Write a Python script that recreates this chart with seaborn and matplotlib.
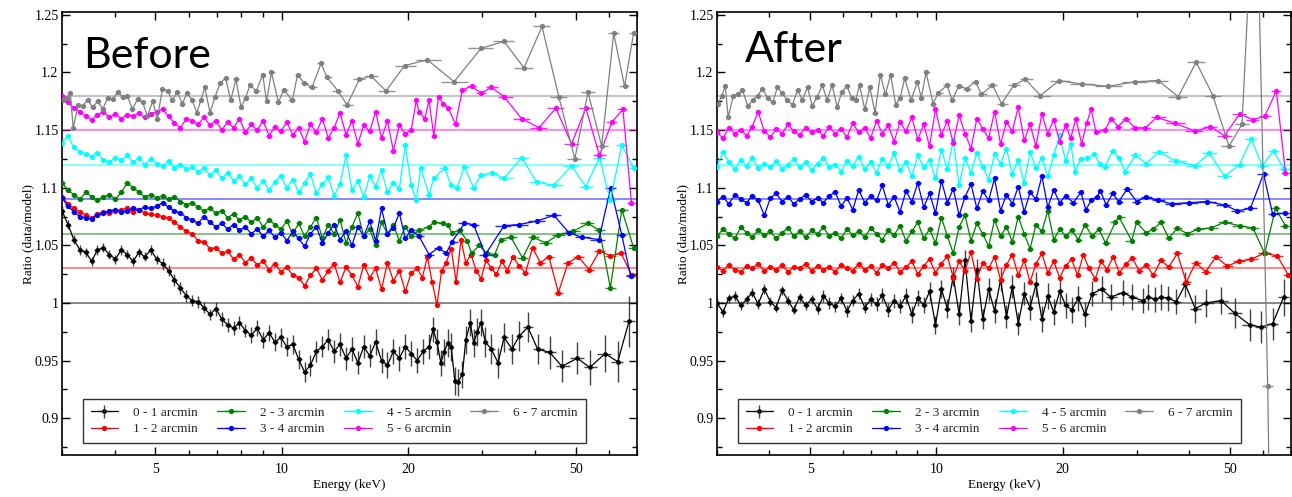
import numpy as np
import pandas as pd
import matplotlib
matplotlib.use('Agg')
import matplotlib.pyplot as plt
from matplotlib.ticker import FixedLocator, FixedFormatter, MultipleLocator, FuncFormatter, NullFormatter
import seaborn as sns

# ---------------- data ----------------
labels = ['0 - 1 arcmin', '1 - 2 arcmin', '2 - 3 arcmin', '3 - 4 arcmin',
          '4 - 5 arcmin', '5 - 6 arcmin', '6 - 7 arcmin']
colors = ['#000000', '#ff0000', '#008000', '#0000ff', '#00ffff', '#ff00ff', '#808080']
baselines = [1.00, 1.03, 1.06, 1.09, 1.12, 1.15, 1.18]

# fine energy binning at low energy (keV), shared by the dense spectra
e_dense = [3.00, 3.10, 3.20, 3.31, 3.42, 3.53, 3.64, 3.76, 3.89, 4.02,
           4.15, 4.29, 4.43, 4.57, 4.72, 4.88, 5.04, 5.21, 5.38, 5.55,
           5.74, 5.93, 6.12, 6.32, 6.53, 6.75, 6.97, 7.20, 7.43, 7.68,
           7.93, 8.19, 8.46, 8.74, 9.03, 9.33, 9.63, 9.95, 10.28, 10.62,
           10.97, 11.33, 11.70, 12.09, 12.49, 12.90, 13.32, 13.76, 14.22, 14.69,
           15.17, 15.67, 16.19, 16.72, 17.27, 17.84, 18.43, 19.04, 19.67, 20.32]
err_black_dense = [0.004, 0.004, 0.004, 0.004, 0.004, 0.004, 0.004, 0.004, 0.004, 0.004,
                   0.004, 0.004, 0.004, 0.004, 0.004, 0.004, 0.004, 0.005, 0.005, 0.005,
                   0.005, 0.005, 0.005, 0.005, 0.005, 0.005, 0.006, 0.006, 0.006, 0.006,
                   0.006, 0.006, 0.007, 0.007, 0.007, 0.007, 0.008, 0.008, 0.008, 0.008,
                   0.008, 0.009, 0.009, 0.009, 0.009, 0.009, 0.010, 0.010, 0.010, 0.010,
                   0.010, 0.010, 0.010, 0.011, 0.011, 0.011, 0.011, 0.011, 0.011, 0.011]

# 6 - 7 arcmin spectrum has its own (coarser) binning
e_gray = [3.02, 3.08, 3.14, 3.19, 3.28, 3.36, 3.45, 3.55, 3.65, 3.75,
          3.85, 3.96, 4.07, 4.18, 4.29, 4.41, 4.54, 4.67, 4.79, 4.93,
          5.06, 5.20, 5.35, 5.49, 5.64, 5.80, 5.95, 6.12, 6.28, 6.42,
          6.56, 6.75, 6.94, 7.14, 7.35, 7.56, 7.78, 8.00, 8.20, 8.40,
          8.70, 9.01, 9.20, 9.45, 9.82, 10.1, 10.6, 10.9, 11.3, 11.8,
          12.4, 12.8, 13.6, 14.3, 15.3, 16.3, 17.7, 19.6, 22.2, 25.7,
          29.8, 33.8, 37.7, 41.6, 45.6, 49.8, 53.5, 57.7, 61.6, 65.4, 68.7]

# ---- Before ----
black_before = [1.080, 1.068, 1.055, 1.046, 1.044, 1.036, 1.046, 1.048, 1.042, 1.038,
                1.046, 1.042, 1.036, 1.044, 1.040, 1.046, 1.038, 1.034, 1.028, 1.020,
                1.013, 1.006, 1.002, 1.001, 0.996, 0.990, 0.995, 0.986, 0.981, 0.978,
                0.983, 0.976, 0.972, 0.978, 0.968, 0.974, 0.966, 0.970, 0.962, 0.964,
                0.951, 0.940, 0.946, 0.958, 0.962, 0.968, 0.958, 0.964, 0.952, 0.960,
                0.948, 0.962, 0.954, 0.966, 0.950, 0.946, 0.958, 0.952, 0.962, 0.956]
e_black_before_tail = [21.0, 21.7, 22.4, 22.9, 23.4, 23.9, 24.3, 24.8, 25.3, 25.8,
                       26.2, 26.9, 27.4, 28.1, 28.6, 29.2, 29.8, 30.5, 31.5, 32.7,
                       33.8, 35.3, 36.7, 38.5, 40.6, 43.4, 46.4, 50.5, 54.0, 58.8, 63.0, 67.0]
black_before_tail = [0.950, 0.958, 0.962, 0.977, 0.966, 0.948, 0.957, 0.965, 0.962, 0.932,
                     0.931, 0.938, 0.968, 0.983, 0.965, 0.975, 0.983, 0.966, 0.960, 0.948,
                     0.970, 0.960, 0.971, 0.979, 0.960, 0.957, 0.945, 0.952, 0.944, 0.956, 0.949, 0.984]
err_black_before_tail = [0.011, 0.011, 0.011, 0.011, 0.011, 0.011, 0.012, 0.012, 0.012, 0.012,
                         0.012, 0.012, 0.012, 0.012, 0.012, 0.012, 0.012, 0.013, 0.013, 0.013,
                         0.013, 0.013, 0.013, 0.013, 0.013, 0.014, 0.014, 0.014, 0.015, 0.016, 0.018, 0.022]

red_before = [1.092, 1.086, 1.082, 1.079, 1.076, 1.074, 1.077, 1.079, 1.078, 1.080,
              1.081, 1.082, 1.079, 1.081, 1.078, 1.077, 1.076, 1.075, 1.074, 1.070,
              1.066, 1.062, 1.060, 1.054, 1.053, 1.047, 1.048, 1.043, 1.045, 1.038,
              1.042, 1.035, 1.039, 1.033, 1.036, 1.029, 1.034, 1.027, 1.031, 1.024,
              1.022, 1.015, 1.024, 1.030, 1.020, 1.028, 1.034, 1.018, 1.031, 1.024,
              1.014, 1.033, 1.022, 1.030, 1.012, 1.035, 1.019, 1.028, 1.010, 1.026]
e_red_before_tail = [21.0, 21.6, 22.2, 22.8, 23.4, 24.0, 24.6, 25.3, 26.0, 26.7,
                     27.4, 28.2, 29.0, 29.8, 30.6, 31.5, 32.4, 33.4, 34.4, 35.5,
                     36.7, 38.0, 39.5, 41.2, 43.2, 45.5, 48.0, 50.8, 53.8, 57.0, 60.5, 64.2, 68.0]
red_before_tail = [1.030, 1.022, 1.040, 1.018, 0.998, 1.028, 1.035, 1.047, 1.018, 1.055,
                   1.035, 1.042, 1.028, 1.021, 1.037, 1.030, 1.025, 1.036, 1.028, 1.040,
                   1.032, 1.026, 1.048, 1.035, 1.040, 1.009, 1.035, 1.040, 1.029, 1.045, 1.041, 1.043, 1.024]

green_before = [1.104, 1.098, 1.094, 1.090, 1.096, 1.092, 1.089, 1.092, 1.094, 1.090,
                1.096, 1.104, 1.100, 1.096, 1.092, 1.094, 1.091, 1.093, 1.090, 1.092,
                1.088, 1.085, 1.087, 1.083, 1.080, 1.082, 1.078, 1.080, 1.074, 1.077,
                1.072, 1.075, 1.070, 1.074, 1.066, 1.072, 1.068, 1.064, 1.071, 1.060,
                1.069, 1.058, 1.066, 1.074, 1.056, 1.068, 1.060, 1.072, 1.052, 1.066,
                1.078, 1.058, 1.064, 1.050, 1.070, 1.060, 1.068, 1.054, 1.066, 1.058]
e_green_before_tail = [21.2, 22.4, 23.0, 24.2, 24.8, 25.4, 26.5, 27.6, 28.3, 29.5,
                       30.7, 32.1, 33.2, 35.1, 37.4, 39.6, 42.5, 45.4, 49.3, 53.5, 57.0, 60.5, 64.4, 68.7]
green_before_tail = [1.063, 1.066, 1.070, 1.069, 1.068, 1.061, 1.063, 1.054, 1.043, 1.050,
                     1.043, 1.042, 1.055, 1.057, 1.039, 1.057, 1.052, 1.059, 1.062, 1.069, 1.063, 1.013, 1.081, 1.048]

blue_before = [1.091, 1.084, 1.079, 1.075, 1.074, 1.073, 1.076, 1.078, 1.080, 1.081,
               1.079, 1.080, 1.082, 1.081, 1.083, 1.082, 1.084, 1.087, 1.083, 1.080,
               1.078, 1.074, 1.072, 1.069, 1.075, 1.070, 1.066, 1.069, 1.064, 1.068,
               1.063, 1.066, 1.060, 1.064, 1.058, 1.063, 1.057, 1.061, 1.054, 1.062,
               1.056, 1.049, 1.060, 1.066, 1.052, 1.061, 1.068, 1.055, 1.062, 1.050,
               1.066, 1.058, 1.071, 1.054, 1.082, 1.060, 1.065, 1.078, 1.056, 1.063]
e_blue_before_tail = [21.2, 22.4, 23.6, 24.6, 25.4, 27.2, 28.6, 30.5, 33.8, 36.6,
                      40.4, 44.4, 48.2, 51.7, 56.8, 60.6, 64.4, 67.6]
blue_before_tail = [1.058, 1.042, 1.048, 1.043, 1.053, 1.069, 1.068, 1.042, 1.067, 1.068,
                    1.071, 1.076, 1.061, 1.057, 1.055, 1.100, 1.059, 1.023]

cyan_before = [1.139, 1.145, 1.135, 1.131, 1.129, 1.127, 1.130, 1.124, 1.122, 1.126,
               1.124, 1.128, 1.122, 1.126, 1.120, 1.125, 1.121, 1.119, 1.123, 1.117,
               1.120, 1.116, 1.118, 1.114, 1.117, 1.111, 1.115, 1.108, 1.113, 1.106,
               1.110, 1.103, 1.108, 1.100, 1.106, 1.098, 1.105, 1.110, 1.100, 1.107,
               1.096, 1.104, 1.112, 1.095, 1.103, 1.109, 1.093, 1.103, 1.128, 1.098,
               1.106, 1.092, 1.110, 1.101, 1.115, 1.096, 1.104, 1.099, 1.137, 1.102]
e_cyan_before_tail = [20.9, 21.4, 22.4, 23.0, 24.4, 25.3, 26.1, 27.2, 28.6, 29.8,
                      31.7, 33.8, 37.2, 40.4, 44.4, 48.9, 52.9, 57.0, 60.5, 64.4, 68.7]
cyan_before_tail = [1.089, 1.117, 1.094, 1.108, 1.117, 1.102, 1.100, 1.118, 1.100, 1.111,
                    1.113, 1.108, 1.126, 1.105, 1.102, 1.119, 1.101, 1.126, 1.089, 1.137, 1.117]

magenta_before = [1.180, 1.174, 1.169, 1.166, 1.162, 1.159, 1.163, 1.166, 1.161, 1.164,
                  1.160, 1.163, 1.162, 1.165, 1.161, 1.164, 1.166, 1.168, 1.162, 1.156,
                  1.152, 1.160, 1.158, 1.155, 1.161, 1.154, 1.158, 1.150, 1.157, 1.152,
                  1.160, 1.148, 1.155, 1.150, 1.158, 1.145, 1.153, 1.149, 1.157, 1.146,
                  1.152, 1.140, 1.155, 1.148, 1.160, 1.143, 1.152, 1.165, 1.146, 1.158,
                  1.138, 1.154, 1.149, 1.166, 1.143, 1.158, 1.132, 1.154, 1.147, 1.150]
e_magenta_before_tail = [20.9, 21.2, 21.9, 22.4, 23.0, 23.6, 24.2, 24.9, 25.9, 26.9,
                         28.3, 29.8, 31.5, 33.8, 37.2, 40.9, 44.9, 48.9, 52.9, 57.0, 61.0, 64.8, 67.9]
magenta_before_tail = [1.176, 1.166, 1.160, 1.176, 1.145, 1.179, 1.173, 1.169, 1.155, 1.185,
                       1.188, 1.182, 1.187, 1.179, 1.160, 1.152, 1.169, 1.138, 1.169, 1.128, 1.157, 1.168, 1.087]

gray_before = [1.176, 1.178, 1.182, 1.152, 1.172, 1.171, 1.176, 1.170, 1.175, 1.168,
               1.178, 1.177, 1.183, 1.179, 1.180, 1.168, 1.177, 1.174, 1.162, 1.175,
               1.160, 1.186, 1.184, 1.176, 1.183, 1.173, 1.182, 1.176, 1.165, 1.176,
               1.187, 1.165, 1.179, 1.191, 1.195, 1.176, 1.194, 1.170, 1.178, 1.189,
               1.184, 1.198, 1.175, 1.200, 1.174, 1.185, 1.176, 1.198, 1.191, 1.187,
               1.208, 1.196, 1.184, 1.172, 1.194, 1.197, 1.184, 1.206, 1.211, 1.192,
               1.221, 1.227, 1.204, 1.240, 1.179, 1.125, 1.183, 1.136, 1.234, 1.188, 1.234]

# ---- After ----
black_after = [1.000, 0.992, 1.004, 1.006, 0.998, 1.003, 1.009, 0.999, 1.012, 1.001,
               0.996, 1.011, 1.002, 0.994, 1.005, 0.998, 1.003, 0.995, 1.006, 1.000,
               0.997, 1.004, 0.993, 1.002, 1.008, 0.996, 1.003, 0.999, 1.007, 0.994,
               1.002, 0.997, 1.006, 0.990, 1.004, 0.998, 1.010, 0.981, 1.012, 0.995,
               1.023, 0.990, 1.037, 0.984, 1.029, 0.986, 1.012, 0.993, 1.020, 0.988,
               1.014, 0.982, 1.008, 0.996, 1.016, 0.986, 1.006, 0.992, 1.010, 0.998]
e_black_after_tail = [21.0, 21.8, 22.6, 23.5, 24.8, 26.0, 27.9, 29.2, 31.1, 32.0,
                      33.2, 34.3, 35.7, 37.3, 39.2, 41.4, 43.9, 47.7, 51.4, 55.8, 59.3, 63.3, 67.2]
black_after_tail = [0.994, 1.004, 0.990, 1.008, 1.012, 1.005, 1.009, 1.005, 1.002, 1.005,
                    1.003, 1.005, 1.004, 1.001, 1.016, 0.995, 1.000, 1.002, 0.991, 0.981, 0.979, 0.982, 1.005]
err_black_after_tail = [0.011, 0.011, 0.011, 0.011, 0.011, 0.011, 0.011, 0.011, 0.011, 0.011,
                        0.011, 0.011, 0.011, 0.011, 0.011, 0.012, 0.012, 0.012, 0.013, 0.014, 0.014, 0.014, 0.016]

red_after = [1.031, 1.028, 1.033, 1.029, 1.027, 1.032, 1.030, 1.034, 1.028, 1.031,
             1.029, 1.033, 1.027, 1.031, 1.030, 1.034, 1.028, 1.032, 1.029, 1.031,
             1.027, 1.033, 1.030, 1.028, 1.034, 1.029, 1.032, 1.026, 1.033, 1.030,
             1.035, 1.027, 1.031, 1.036, 1.025, 1.032, 1.038, 1.026, 1.034, 1.041,
             1.022, 1.036, 1.028, 1.044, 1.021, 1.035, 1.030, 1.040, 1.020, 1.033,
             1.042, 1.024, 1.037, 1.018, 1.034, 1.043, 1.026, 1.036, 1.022, 1.032]
e_red_after_tail = [21.0, 21.7, 22.4, 23.1, 23.9, 24.7, 25.5, 26.4, 27.3, 28.3,
                    29.3, 30.4, 31.6, 32.9, 34.3, 35.8, 37.5, 39.4, 41.5, 43.8,
                    46.4, 49.3, 52.6, 56.3, 60.4, 64.9, 69.0]
red_after_tail = [1.038, 1.024, 1.042, 1.030, 1.021, 1.036, 1.029, 1.040, 1.026, 1.034,
                  1.039, 1.028, 1.033, 1.024, 1.037, 1.031, 1.043, 1.018, 1.035, 1.027,
                  1.040, 1.032, 1.036, 1.038, 1.043, 1.041, 1.024]

green_after = [1.058, 1.064, 1.060, 1.056, 1.066, 1.061, 1.057, 1.063, 1.059, 1.062,
               1.056, 1.061, 1.065, 1.058, 1.062, 1.057, 1.063, 1.060, 1.066, 1.058,
               1.061, 1.056, 1.064, 1.059, 1.062, 1.057, 1.065, 1.060, 1.055, 1.063,
               1.059, 1.067, 1.054, 1.062, 1.070, 1.056, 1.064, 1.052, 1.074, 1.058,
               1.043, 1.066, 1.076, 1.054, 1.069, 1.060, 1.049, 1.072, 1.058, 1.066,
               1.053, 1.075, 1.060, 1.047, 1.068, 1.062, 1.080, 1.055, 1.064, 1.058]
e_green_after_tail = [21.0, 21.8, 22.6, 23.5, 24.4, 25.3, 26.7, 27.2, 29.2, 30.0,
                      31.6, 32.9, 34.3, 35.8, 37.5, 39.6, 42.0, 45.1, 48.6, 52.8, 56.8, 60.6, 64.3, 67.9]
green_after_tail = [1.063, 1.055, 1.068, 1.058, 1.064, 1.052, 1.070, 1.075, 1.054, 1.070,
                    1.061, 1.064, 1.070, 1.056, 1.065, 1.060, 1.064, 1.065, 1.070, 1.067, 1.065, 1.043, 1.082, 1.067]

blue_after = [1.088, 1.092, 1.086, 1.094, 1.090, 1.087, 1.093, 1.089, 1.076, 1.091,
              1.095, 1.088, 1.092, 1.086, 1.090, 1.094, 1.088, 1.091, 1.087, 1.093,
              1.096, 1.084, 1.091, 1.081, 1.098, 1.087, 1.093, 1.089, 1.102, 1.085,
              1.092, 1.079, 1.097, 1.088, 1.104, 1.083, 1.095, 1.078, 1.106, 1.087,
              1.099, 1.076, 1.092, 1.103, 1.082, 1.097, 1.089, 1.108, 1.080, 1.094,
              1.086, 1.101, 1.079, 1.096, 1.090, 1.110, 1.083, 1.098, 1.087, 1.093]
e_blue_after_tail = [21.2, 22.1, 22.7, 23.4, 24.1, 24.6, 25.4, 26.3, 27.2, 28.5,
                     30.0, 31.6, 33.7, 36.4, 40.1, 44.2, 48.6, 52.1, 56.0, 60.2, 63.3, 67.9]
blue_after_tail = [1.087, 1.096, 1.081, 1.089, 1.092, 1.097, 1.085, 1.095, 1.088, 1.099,
                   1.088, 1.092, 1.089, 1.086, 1.087, 1.088, 1.085, 1.080, 1.082, 1.112, 1.077, 1.078]

cyan_after = [1.118, 1.131, 1.122, 1.116, 1.124, 1.119, 1.126, 1.117, 1.121, 1.118,
              1.123, 1.116, 1.120, 1.125, 1.118, 1.122, 1.115, 1.121, 1.126, 1.118,
              1.120, 1.114, 1.123, 1.119, 1.127, 1.116, 1.122, 1.113, 1.125, 1.119,
              1.130, 1.115, 1.122, 1.110, 1.128, 1.118, 1.124, 1.108, 1.133, 1.116,
              1.141, 1.102, 1.126, 1.113, 1.130, 1.118, 1.107, 1.129, 1.121, 1.134,
              1.112, 1.124, 1.104, 1.131, 1.117, 1.126, 1.110, 1.128, 1.146, 1.123]
e_cyan_after_tail = [20.9, 21.4, 22.1, 22.9, 23.8, 24.5, 25.2, 26.3, 27.2, 28.2,
                     29.8, 31.6, 33.9, 37.3, 41.4, 44.7, 48.6, 52.8, 56.3, 59.8, 63.6, 67.5]
cyan_after_tail = [1.138, 1.114, 1.125, 1.126, 1.129, 1.121, 1.118, 1.132, 1.126, 1.114,
                   1.128, 1.121, 1.131, 1.123, 1.119, 1.130, 1.110, 1.120, 1.142, 1.119, 1.132, 1.116]

magenta_after = [1.148, 1.143, 1.152, 1.147, 1.150, 1.145, 1.153, 1.166, 1.149, 1.144,
                 1.151, 1.147, 1.155, 1.149, 1.146, 1.152, 1.148, 1.150, 1.145, 1.153,
                 1.147, 1.151, 1.144, 1.156, 1.148, 1.152, 1.143, 1.158, 1.147, 1.154,
                 1.140, 1.157, 1.149, 1.161, 1.142, 1.155, 1.136, 1.168, 1.146, 1.158,
                 1.139, 1.163, 1.147, 1.134, 1.160, 1.151, 1.143, 1.166, 1.138, 1.157,
                 1.149, 1.170, 1.141, 1.155, 1.136, 1.164, 1.147, 1.159, 1.140, 1.154]
e_magenta_after_tail = [20.9, 21.5, 22.2, 22.8, 23.4, 24.0, 25.2, 26.1, 27.1, 28.3,
                        29.7, 31.5, 33.5, 37.0, 41.4, 45.0, 48.6, 52.8, 56.8, 60.6, 64.6, 67.9]
magenta_after_tail = [1.143, 1.160, 1.138, 1.156, 1.168, 1.148, 1.150, 1.160, 1.153, 1.160,
                      1.152, 1.152, 1.161, 1.156, 1.149, 1.153, 1.145, 1.164, 1.159, 1.162, 1.184, 1.113]

gray_after = [1.173, 1.180, 1.188, 1.161, 1.180, 1.181, 1.185, 1.171, 1.176, 1.180,
              1.186, 1.178, 1.174, 1.187, 1.182, 1.176, 1.172, 1.185, 1.176, 1.187,
              1.171, 1.179, 1.189, 1.176, 1.189, 1.170, 1.183, 1.188, 1.178, 1.176,
              1.189, 1.168, 1.187, 1.165, 1.198, 1.181, 1.198, 1.172, 1.178, 1.195,
              1.176, 1.192, 1.178, 1.200, 1.173, 1.182, 1.189, 1.176, 1.188, 1.186,
              1.192, 1.181, 1.189, 1.173, 1.189, 1.194, 1.180, 1.193, 1.190, 1.188,
              1.192, 1.193, 1.179, 1.209, 1.180, 1.136, 1.155, 1.400, 0.928, 0.300, 0.350]


def bin_xerr(e):
    # half widths of the energy bins (edges half way in log between neighbours)
    e = np.asarray(e, dtype=float)
    edges = np.sqrt(e[:-1] * e[1:])
    lo = np.concatenate([[e[0] ** 2 / edges[0]], edges])
    hi = np.concatenate([edges, [e[-1] ** 2 / edges[-1]]])
    return np.vstack([e - lo, hi - e])


before = [
    (e_dense + e_black_before_tail, black_before + black_before_tail, err_black_dense + err_black_before_tail),
    (e_dense + e_red_before_tail, red_before + red_before_tail, None),
    (e_dense + e_green_before_tail, green_before + green_before_tail, None),
    (e_dense + e_blue_before_tail, blue_before + blue_before_tail, None),
    (e_dense + e_cyan_before_tail, cyan_before + cyan_before_tail, None),
    (e_dense + e_magenta_before_tail, magenta_before + magenta_before_tail, None),
    (e_gray, gray_before, None),
]
after = [
    (e_dense + e_black_after_tail, black_after + black_after_tail, err_black_dense + err_black_after_tail),
    (e_dense + e_red_after_tail, red_after + red_after_tail, None),
    (e_dense + e_green_after_tail, green_after + green_after_tail, None),
    (e_dense + e_blue_after_tail, blue_after + blue_after_tail, None),
    (e_dense + e_cyan_after_tail, cyan_after + cyan_after_tail, None),
    (e_dense + e_magenta_after_tail, magenta_after + magenta_after_tail, None),
    (e_gray, gray_after, None),
]
for e, r, err in before + after:
    assert len(e) == len(r), (len(e), len(r))
    if err is not None:
        assert len(err) == len(e)

# ---------------- style ----------------
sns.set_theme(style='ticks')
plt.rcParams['font.family'] = ['Liberation Serif', 'DejaVu Serif']
plt.rcParams['axes.edgecolor'] = 'black'
plt.rcParams['axes.linewidth'] = 1.2

fig = plt.figure(figsize=(12.92, 4.97), dpi=100)
ax_b = fig.add_axes([62 / 1292, 42 / 497, 575 / 1292, 443 / 497])
ax_a = fig.add_axes([717 / 1292, 42 / 497, 574 / 1292, 443 / 497])


def draw_panel(ax, series, tag, tag_xy):
    ax.set_xscale('log')
    for color, base in zip(colors, baselines):
        ax.axhline(base, color=color, lw=1.2, alpha=0.55, zorder=1)
    handles = []
    for (e, r, err), color, label in zip(series, colors, labels):
        df = pd.DataFrame({'E': e, 'R': r})
        black = color == '#000000'
        sns.lineplot(data=df, x='E', y='R', estimator=None, sort=False, ax=ax,
                     color=color, lw=0.9, marker='o', markersize=3.4 if black else 3.8,
                     markeredgewidth=0, legend=False, zorder=3)
        line = ax.lines[-1]
        eb = ax.errorbar(e, r, xerr=bin_xerr(e), yerr=err, fmt='none',
                         ecolor='#222222' if black else color, elinewidth=1.0,
                         alpha=0.85, capsize=0, zorder=2)
        handles.append((line, eb))

    ax.set_xlim(3.0, 70.0)
    ax.set_ylim(0.868, 1.2525)
    ax.xaxis.set_major_locator(FixedLocator([5, 10, 20, 50]))
    ax.xaxis.set_major_formatter(FixedFormatter(['5', '10', '20', '50']))
    ax.xaxis.set_minor_locator(FixedLocator([3, 4, 6, 7, 8, 9, 30, 40, 60, 70]))
    ax.xaxis.set_minor_formatter(NullFormatter())
    ax.yaxis.set_major_locator(MultipleLocator(0.05))
    ax.yaxis.set_minor_locator(MultipleLocator(0.025))
    ax.yaxis.set_major_formatter(FuncFormatter(lambda v, p: '%g' % round(v, 3)))
    ax.tick_params(which='both', direction='in', top=True, right=True, color='black',
                   width=1.0, labelsize=10, labelcolor='black')
    ax.tick_params(which='major', length=6)
    ax.tick_params(which='minor', length=3.5)
    ax.tick_params(axis='x', which='major', pad=6)
    ax.tick_params(axis='y', which='major', pad=2.5)
    for sp in ax.spines.values():
        sp.set_color('black')
        sp.set_linewidth(1.2)
    ax.set_xlabel('Energy (keV)', fontsize=9.5, color='black', labelpad=2)
    ax.set_ylabel('Ratio (data/model)', fontsize=9.5, color='black', labelpad=0)
    ax.text(tag_xy[0], tag_xy[1], tag, transform=ax.transAxes, fontsize=31,
            family=['Lato', 'DejaVu Sans'], color='black', va='baseline', ha='left')

    leg = ax.legend(handles, labels, ncol=4, loc='lower left', bbox_to_anchor=(0.036, 0.027),
                    borderaxespad=0, fontsize=9.5, frameon=True, fancybox=False, framealpha=1,
                    edgecolor='#333333', handlelength=2.1, handletextpad=1.15,
                    columnspacing=1.45, borderpad=0.6, labelspacing=0.3)
    leg.get_frame().set_linewidth(1.0)


draw_panel(ax_b, before, 'Before', (0.036, 0.874))
draw_panel(ax_a, after, 'After', (0.048, 0.887))

fig.savefig('out.png', dpi=100, facecolor='white')
